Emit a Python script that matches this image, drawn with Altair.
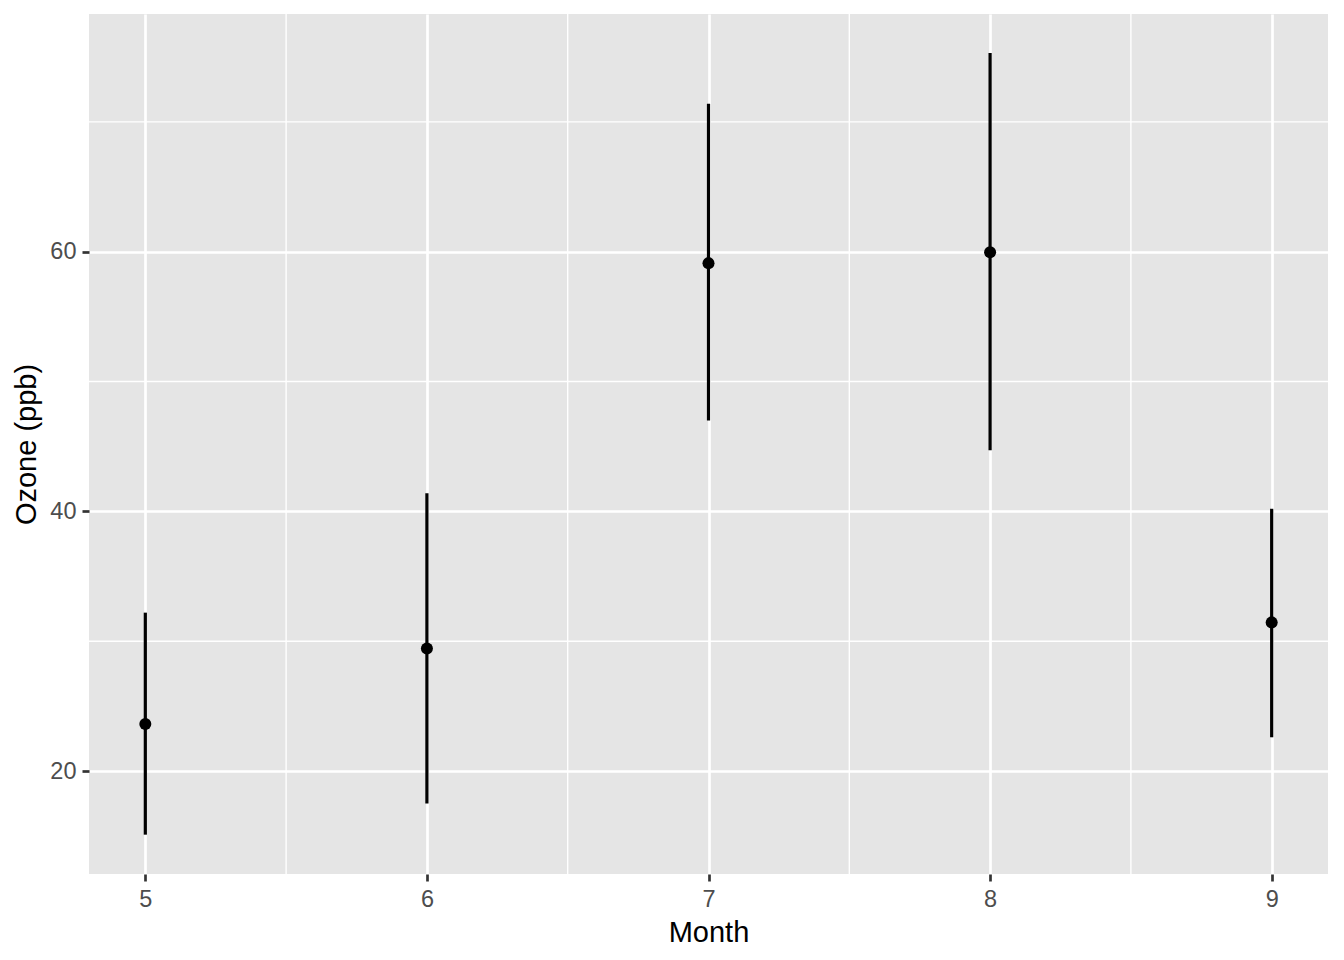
import altair as alt
import pandas as pd

months = [5, 6, 7, 8, 9]
mean_ozone = [23.62, 29.44, 59.12, 59.96, 31.45]
lower = [15.1, 17.5, 47.0, 44.7, 22.6]
upper = [32.2, 41.4, 71.4, 75.3, 40.2]

x_major = [5, 6, 7, 8, 9]
y_major = [20, 40, 60]
x_minor = [5.5, 6.5, 7.5, 8.5]
y_minor = [30, 50, 70]

df = pd.DataFrame({"Month": months, "Ozone": mean_ozone, "lo": lower, "hi": upper})
dfx = pd.DataFrame({"v": x_minor})
dfy = pd.DataFrame({"v": y_minor})

xs = alt.Scale(domain=[4.8, 9.2], nice=False, zero=False)
ys = alt.Scale(domain=[12.07, 78.31], nice=False, zero=False)

xaxis = alt.Axis(values=x_major, title="Month", grid=True, format="d")
yaxis = alt.Axis(values=y_major, title="Ozone (ppb)", grid=True, format="d")

minor_x = alt.Chart(dfx).mark_rule(color="white", strokeWidth=1.4).encode(
    x=alt.X("v:Q", scale=xs, axis=xaxis)
)
minor_y = alt.Chart(dfy).mark_rule(color="white", strokeWidth=1.4).encode(
    y=alt.Y("v:Q", scale=ys, axis=yaxis)
)

bars = alt.Chart(df).mark_rule(color="black", strokeWidth=3.2).encode(
    x=alt.X("Month:Q", scale=xs, axis=xaxis),
    y=alt.Y("lo:Q", scale=ys, axis=yaxis),
    y2="hi:Q",
)
points = alt.Chart(df).mark_circle(color="black", opacity=1, size=145).encode(
    x=alt.X("Month:Q", scale=xs, axis=xaxis),
    y=alt.Y("Ozone:Q", scale=ys, axis=yaxis),
)

chart = alt.layer(minor_x, minor_y, bars, points).properties(
    width=1239,
    height=860,
    autosize=alt.AutoSizeParams(type="none"),
    padding={"left": 81, "top": 6, "right": 8, "bottom": 80},
    background="white",
).configure_view(
    fill="#E5E5E5", stroke=None
).configure_axis(
    gridColor="white",
    gridWidth=2.7,
    domain=False,
    tickColor="#333333",
    tickWidth=2.7,
    tickSize=7,
    labelColor="#4D4D4D",
    labelFont="Liberation Sans",
    labelFontSize=23.5,
    labelPadding=6,
    titleFont="Liberation Sans",
    titleFontSize=29,
    titleFontWeight="normal",
    titleColor="black",
    titlePadding=8,
)

chart.save("out.html", embed_options={"renderer": "svg", "actions": False})
